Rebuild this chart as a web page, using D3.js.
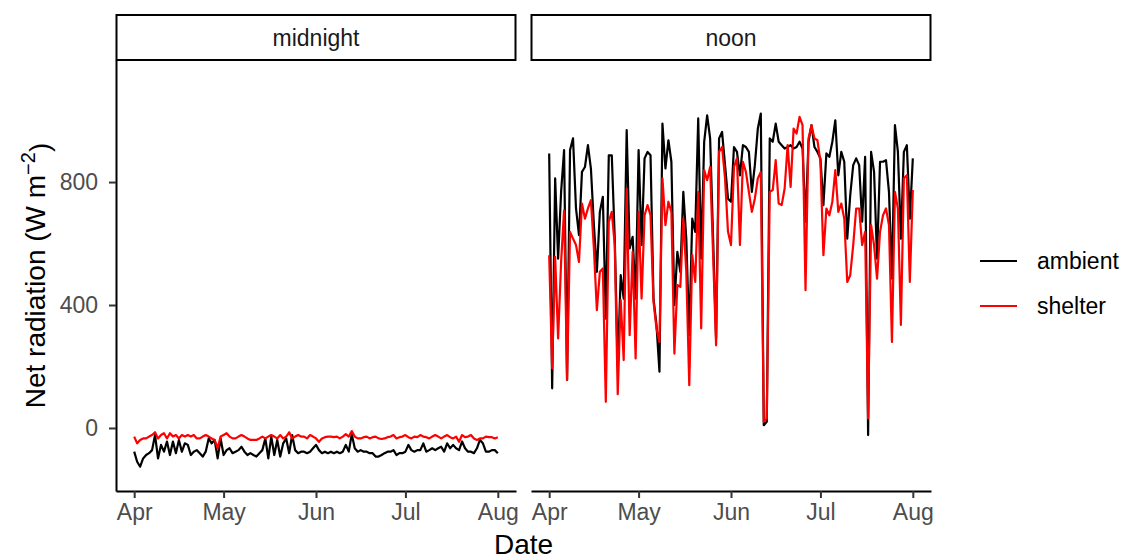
<!DOCTYPE html>
<html>
<head>
<meta charset="utf-8">
<script src="https://cdn.jsdelivr.net/npm/d3@7"></script>
<style>
body { margin: 0; background: #fff; }
text { font-family: "Liberation Sans", Arial, sans-serif; }
</style>
</head>
<body>
<script>
// daily values, 1 Apr to 1 Aug
const firstDay = "2019-04-01";
const panels = ["midnight", "noon"];
const seriesNames = ["ambient", "shelter"];
const seriesColors = ["#000000", "#FF0000"];
const yTicks = [0, 400, 800];
const monthTicks = ["2019-04-01", "2019-05-01", "2019-06-01", "2019-07-01", "2019-08-01"];

const midnightAmbient = [
	-77, -110, -126, -99, -88, -82, -72, -23, -99, -55,
	-77, -44, -88, -44, -82, -39, -77, -50, -55, -88,
	-77, -72, -82, -93, -77, -34, -50, -39, -99, -34,
	-88, -72, -66, -82, -77, -72, -61, -77, -88, -82,
	-88, -93, -82, -72, -34, -99, -28, -88, -39, -93,
	-50, -34, -82, -23, -72, -82, -77, -77, -82, -77,
	-66, -55, -72, -82, -77, -82, -77, -82, -77, -82,
	-77, -55, -77, -20, -66, -77, -72, -77, -77, -82,
	-82, -93, -93, -88, -82, -77, -77, -72, -88, -82,
	-82, -77, -55, -72, -77, -72, -72, -50, -77, -72,
	-66, -72, -66, -61, -77, -50, -66, -55, -66, -72,
	-44, -66, -77, -77, -82, -66, -39, -50, -77, -77,
	-72, -72, -82
];
const midnightShelter = [
	-28, -50, -39, -34, -34, -28, -23, -14, -34, -23,
	-17, -34, -17, -28, -23, -34, -23, -28, -23, -28,
	-23, -34, -34, -28, -23, -28, -34, -39, -66, -28,
	-23, -17, -28, -34, -34, -28, -23, -28, -34, -39,
	-39, -39, -34, -28, -34, -28, -23, -28, -34, -23,
	-34, -28, -14, -34, -28, -23, -28, -28, -34, -23,
	-28, -34, -45, -34, -30, -28, -28, -30, -28, -34,
	-28, -20, -28, -10, -28, -34, -34, -30, -28, -34,
	-30, -28, -34, -36, -34, -30, -28, -23, -34, -30,
	-28, -23, -30, -34, -28, -30, -23, -28, -30, -34,
	-28, -23, -28, -34, -28, -23, -30, -34, -28, -45,
	-23, -30, -28, -23, -34, -39, -34, -34, -28, -30,
	-30, -34, -30
];
const noonAmbient = [
	893, 129, 812, 551, 768, 904, 156, 904, 942, 714,
	627, 833, 849, 920, 844, 660, 508, 703, 752, 356,
	887, 887, 616, 200, 497, 421, 969, 584, 622, 421,
	904, 595, 877, 898, 887, 421, 335, 183, 990, 844,
	936, 866, 400, 573, 508, 768, 616, 302, 681, 638,
	1007, 551, 931, 1017, 942, 616, 291, 942, 963, 855,
	746, 736, 914, 898, 822, 920, 914, 898, 768, 855,
	974, 1023, 9, 20, 942, 931, 990, 931, 920, 909,
	914, 920, 909, 914, 931, 909, 671, 931, 985, 914,
	898, 877, 725, 893, 882, 931, 1001, 822, 898, 866,
	616, 757, 855, 877, 855, 671, 882, -23, 898, 833,
	551, 866, 866, 871, 768, 486, 985, 898, 616, 898,
	920, 681, 877
];
const noonShelter = [
	562, 194, 557, 291, 540, 708, 156, 638, 616, 595,
	540, 730, 681, 714, 741, 584, 383, 508, 519, 85,
	671, 703, 595, 110, 416, 221, 779, 302, 573, 226,
	703, 421, 692, 725, 692, 410, 324, 280, 812, 660,
	736, 703, 242, 465, 459, 681, 508, 139, 562, 475,
	768, 324, 839, 806, 849, 562, 269, 898, 914, 812,
	638, 595, 849, 877, 595, 866, 833, 768, 703, 746,
	812, 833, 20, 31, 768, 774, 871, 730, 725, 779,
	920, 784, 974, 958, 1012, 985, 448, 942, 985, 942,
	936, 866, 562, 714, 692, 736, 839, 703, 730, 681,
	475, 497, 595, 714, 714, 595, 638, 31, 660, 595,
	486, 638, 692, 714, 660, 280, 768, 714, 335, 812,
	822, 475, 774
];
const panelValues = [
	[midnightAmbient, midnightShelter],
	[noonAmbient, noonShelter]
];

const width = 1125;
const height = 559;
const panelLefts = [116, 531];
const panelWidth = 400;
const panelTop = 60;
const panelBottom = 491;
const stripTop = 15;
const smallFont = "23px";
const titleFont = "28px";

const parse = d3.timeParse("%Y-%m-%d");
const start = parse(firstDay);
const days = midnightAmbient.map((v, i) => d3.timeDay.offset(start, i));
const dataMin = days[0];
const dataMax = days[days.length - 1];
const pad = (dataMax - dataMin) * 0.05;

const y = d3.scaleLinear().domain([-205, 1197]).range([panelBottom, panelTop]);

const svg = d3.select("body")
	.append("svg")
	.attr("width", width)
	.attr("height", height);

panels.forEach((name, p) => {
	const x0 = panelLefts[p];
	const x = d3.scaleTime()
		.domain([new Date(+dataMin - pad), new Date(+dataMax + pad)])
		.range([x0, x0 + panelWidth]);

	// strip
	svg.append("rect")
		.attr("x", x0 + 0.5)
		.attr("y", stripTop)
		.attr("width", panelWidth - 1)
		.attr("height", panelTop - stripTop)
		.style("fill", "#fff")
		.style("stroke", "#000")
		.style("stroke-width", 2);
	svg.append("text")
		.attr("x", x0 + panelWidth / 2)
		.attr("y", (stripTop + panelTop) / 2)
		.attr("text-anchor", "middle")
		.attr("dominant-baseline", "central")
		.style("font-size", smallFont)
		.style("fill", "#1A1A1A")
		.text(name);

	const line = d3.line()
		.x((d, i) => x(days[i]))
		.y((d) => y(d));

	seriesNames.forEach((s, k) => {
		svg.append("path")
			.datum(panelValues[p][k])
			.attr("d", line)
			.style("fill", "none")
			.style("stroke", seriesColors[k])
			.style("stroke-width", 2.2)
			.style("stroke-linejoin", "round");
	});

	const xAxis = svg.append("g")
		.attr("transform", "translate(0," + panelBottom + ")")
		.call(d3.axisBottom(x)
			.tickValues(monthTicks.map(parse))
			.tickFormat(d3.timeFormat("%b"))
			.tickSize(7)
			.tickSizeOuter(0)
			.tickPadding(6));
	xAxis.select(".domain").style("stroke", "#000").style("stroke-width", 2);
	xAxis.selectAll(".tick line").style("stroke", "#333").style("stroke-width", 2);
	xAxis.selectAll(".tick text")
		.style("font-size", smallFont)
		.style("fill", "#4D4D4D")
		.style("font-family", "'Liberation Sans', Arial, sans-serif");

	if (p === 0) {
		const yAxis = svg.append("g")
			.attr("transform", "translate(" + x0 + ",0)")
			.call(d3.axisLeft(y)
				.tickValues(yTicks)
				.tickSize(7)
				.tickSizeOuter(0)
				.tickPadding(11));
		yAxis.select(".domain").style("stroke", "#000").style("stroke-width", 2);
		yAxis.selectAll(".tick line").style("stroke", "#333").style("stroke-width", 2);
		yAxis.selectAll(".tick text")
			.style("font-size", smallFont)
			.style("fill", "#4D4D4D")
			.style("font-family", "'Liberation Sans', Arial, sans-serif");
	}
});

// axis titles
svg.append("text")
	.attr("x", (panelLefts[0] + panelLefts[1] + panelWidth) / 2)
	.attr("y", 554)
	.attr("text-anchor", "middle")
	.style("font-size", titleFont)
	.style("fill", "#000")
	.text("Date");

const yTitle = svg.append("text")
	.attr("transform", "translate(45," + (panelTop + panelBottom) / 2 + ") rotate(-90)")
	.attr("text-anchor", "middle")
	.style("font-size", titleFont)
	.style("fill", "#000");
yTitle.append("tspan").text("Net radiation (W m");
yTitle.append("tspan").attr("dy", "-0.5em").style("font-size", "20px").text("\u22122");
yTitle.append("tspan").attr("dy", "0.5em").text(")");

// legend
const legend = svg.append("g").attr("transform", "translate(980,261)");
seriesNames.forEach((s, k) => {
	const g = legend.append("g").attr("transform", "translate(0," + k * 45 + ")");
	g.append("line")
		.attr("x1", 0)
		.attr("x2", 37)
		.style("stroke", seriesColors[k])
		.style("stroke-width", 2.2);
	g.append("text")
		.attr("x", 57)
		.attr("dominant-baseline", "central")
		.style("font-size", smallFont)
		.style("fill", "#000")
		.text(s);
});
</script>
</body>
</html>
